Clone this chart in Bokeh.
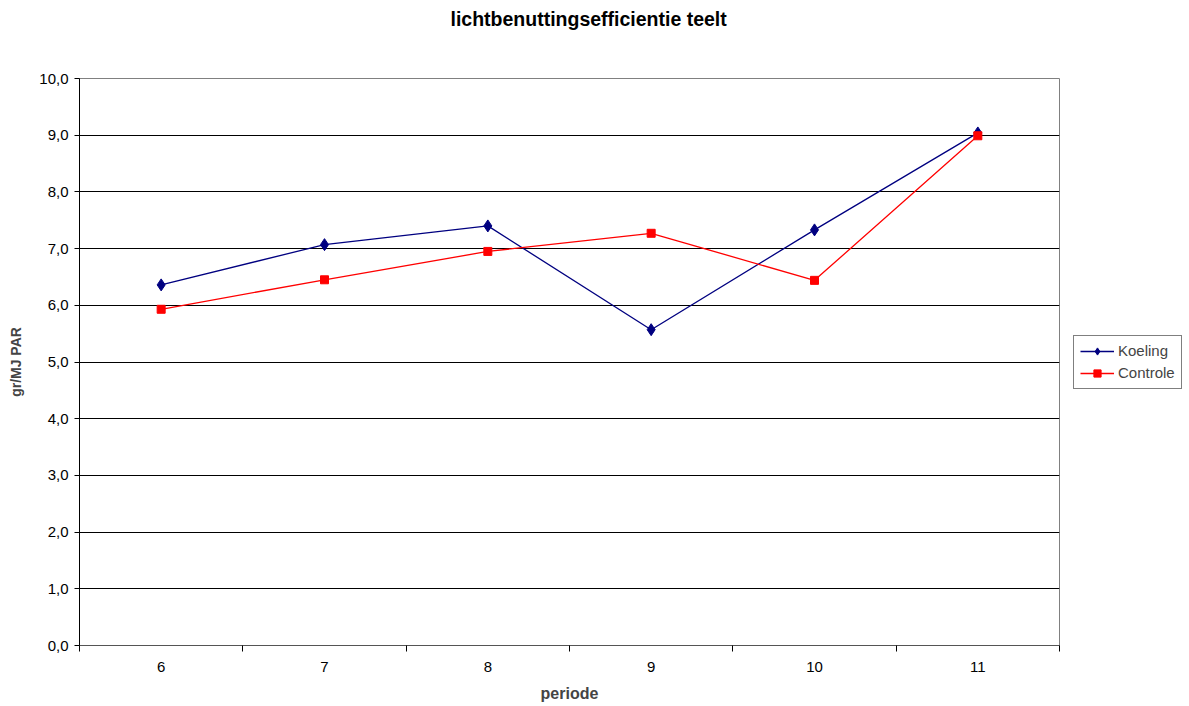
from bokeh.plotting import figure
from bokeh.models import FixedTicker, Legend, LegendItem, Title
from bokeh.embed import file_html
from bokeh.resources import INLINE

# periods and measured light-use efficiency (gr/MJ PAR)
periods = [6, 7, 8, 9, 10, 11]
koeling = [6.36, 7.07, 7.40, 5.57, 7.33, 9.04]
controle = [5.93, 6.45, 6.95, 7.27, 6.44, 8.99]
y_ticks = [0, 1, 2, 3, 4, 5, 6, 7, 8, 9, 10]

FONT = "Liberation Sans"

p = figure(frame_width=980, frame_height=567, output_backend="svg",
           toolbar_location=None, title=None,
           x_range=(5.5, 11.5), y_range=(0, 10),
           min_border_left=79, min_border_right=130,
           min_border_top=77, min_border_bottom=61)
p.background_fill_color = "white"
p.border_fill_color = "white"
p.outline_line_color = "#808080"
p.outline_line_width = 1

# blank spacer between plot area and the heading
p.add_layout(Title(text=" ", text_font_size="29px"), "above")
title = Title(text="lichtbenuttingsefficientie teelt", align="left",
              text_font=FONT, text_font_size="19.5px", text_font_style="bold",
              text_color="black", offset=371)
p.add_layout(title, "above")

# x axis: labels at period centres, tick marks between periods
xa = p.xaxis[0]
xa.ticker = FixedTicker(ticks=periods, minor_ticks=[5.5 + i for i in range(7)])
xa.major_tick_in = 0
xa.major_tick_out = 0
xa.minor_tick_in = 0
xa.minor_tick_out = 6
xa.minor_tick_line_color = "black"
xa.axis_line_color = "#555555"
xa.major_label_text_font = FONT
xa.major_label_text_font_size = "15px"
xa.major_label_text_color = "black"
xa.major_label_standoff = 10
xa.axis_label = "periode"
xa.axis_label_text_font = FONT
xa.axis_label_text_font_size = "16px"
xa.axis_label_text_font_style = "bold"
xa.axis_label_standoff = 10

ya = p.yaxis[0]
ya.ticker = FixedTicker(ticks=y_ticks, minor_ticks=[])
ya.major_label_overrides = {t: f"{t},0" for t in y_ticks}
ya.major_tick_in = 0
ya.major_tick_out = 5
ya.major_tick_line_color = "black"
ya.axis_line_color = "black"
ya.major_label_text_font = FONT
ya.major_label_text_font_size = "15px"
ya.major_label_text_color = "black"
ya.major_label_standoff = 6
ya.axis_label = "gr/MJ PAR"
ya.axis_label_text_font = FONT
ya.axis_label_text_font_size = "14px"
ya.axis_label_text_font_style = "bold"
ya.axis_label_standoff = 12

p.xgrid.grid_line_color = None
p.ygrid.ticker = FixedTicker(ticks=y_ticks)
p.ygrid.grid_line_color = "black"
p.ygrid.grid_line_width = 1

k_line = p.line(periods, koeling, line_color="#000080", line_width=1.3)
k_mark = p.scatter(periods, koeling, marker="diamond", size=12,
                   fill_color="#000080", line_color="#000080")
c_line = p.line(periods, controle, line_color="#FF0000", line_width=1.3)
c_mark = p.scatter(periods, controle, marker="square", size=8,
                   fill_color="#FF0000", line_color="#FF0000")

legend = Legend(items=[LegendItem(label="Koeling", renderers=[k_line, k_mark]),
                       LegendItem(label="Controle", renderers=[c_line, c_mark])],
                location="center_left", border_line_color="black",
                border_line_width=1, background_fill_color="white",
                label_text_font=FONT, label_text_font_size="15px",
                glyph_width=34, glyph_height=18, spacing=4, padding=6,
                margin=14, label_standoff=4)
p.add_layout(legend, "right")

open("out.html", "w").write(file_html(p, INLINE))
